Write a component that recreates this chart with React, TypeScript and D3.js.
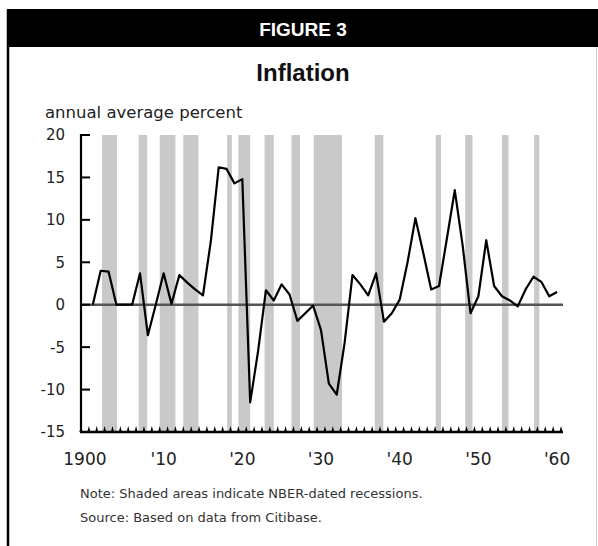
import React from "react";
import * as d3 from "d3";

const years = [1901,1902,1903,1904,1905,1906,1907,1908,1909,1910,1911,1912,1913,1914,1915,1916,1917,1918,1919,1920,1921,1922,1923,1924,1925,1926,1927,1928,1929,1930,1931,1932,1933,1934,1935,1936,1937,1938,1939,1940,1941,1942,1943,1944,1945,1946,1947,1948,1949,1950,1951,1952,1953,1954,1955,1956,1957,1958,1959,1960];
const inflation = [0,4.0,3.9,0,0,0,3.7,-3.6,0,3.7,0.1,3.5,2.6,1.8,1.1,7.5,16.2,16.0,14.3,14.8,-11.5,-5.5,1.7,0.5,2.4,1.2,-1.9,-1.0,-0.1,-3.0,-9.3,-10.6,-4.5,3.5,2.4,1.1,3.7,-2.0,-1.0,0.6,5.0,10.2,6.1,1.8,2.2,7.8,13.5,7.0,-1.0,1.0,7.6,2.2,1.0,0.5,-0.2,1.8,3.3,2.7,1.0,1.5];

// NBER recessions (peak, trough) as fractional years
const recessionStart = [1902.67,1907.33,1910.0,1913.0,1918.58,1920.0,1923.33,1926.75,1929.58,1937.33,1945.08,1948.83,1953.5,1957.58];
const recessionEnd = [1904.58,1908.42,1912.0,1914.92,1919.17,1921.5,1924.5,1927.83,1933.17,1938.42,1945.75,1949.75,1954.33,1958.25];

const yTicks = [20,15,10,5,0,-5,-10,-15];
const xTickYears = [1900,1910,1920,1930,1940,1950,1960];
const xTickLabels = ["1900","'10","'20","'30","'40","'50","'60"];

const FONT = "'DejaVu Sans', sans-serif";

export default function App() {
  const W = 598, H = 546;
  const x = d3.scaleLinear().domain([1900, 1961]).range([81, 561]);
  const y = d3.scaleLinear().domain([-15, 20]).range([432, 135]);
  const pts: [number, number][] = years.map((yr, i) => [yr + 0.5, inflation[i]]);
  const line = d3.line<[number, number]>().x(d => x(d[0])).y(d => y(d[1]));
  const yearTicks = d3.range(1900, 1962);

  return (
    <svg width={W} height={H} style={{ position: "absolute", left: 0, top: 0 }}>
      <rect x={0} y={0} width={W} height={H} fill="#fff" />
      {/* frame */}
      <rect x={7} y={9} width={591} height={38} fill="#000" />
      <line x1={8} y1={9} x2={8} y2={546} stroke="#000" strokeWidth={2.5} />
      <line x1={596.5} y1={47} x2={596.5} y2={546} stroke="#ccc" strokeWidth={1} />
      <text x={303} y={36} textAnchor="middle" fill="#fff" fontFamily="'Liberation Sans', sans-serif" fontWeight="bold" fontSize={19}>FIGURE 3</text>
      <text x={303} y={81} textAnchor="middle" fill="#111" fontFamily="'Liberation Sans', sans-serif" fontWeight="bold" fontSize={24}>Inflation</text>
      <text x={45} y={118} fill="#222" fontFamily={FONT} fontSize={16.5}>annual average percent</text>

      {/* recession shading */}
      {recessionStart.map((s, i) => (
        <rect key={i} x={x(s)} y={y(20)} width={x(recessionEnd[i]) - x(s)} height={y(-15) - y(20)} fill="#c9c9c9" />
      ))}

      {/* zero line */}
      <line x1={x(1900)} x2={563} y1={y(0)} y2={y(0)} stroke="#555" strokeWidth={2.5} />

      {/* data line */}
      <path d={line(pts) || ""} fill="none" stroke="#000" strokeWidth={2.2} strokeLinejoin="round" />

      {/* y axis */}
      <line x1={81} x2={81} y1={y(20) - 1} y2={y(-15) + 1} stroke="#000" strokeWidth={2.2} />
      {yTicks.map(t => (
        <g key={t}>
          <line x1={81} x2={90} y1={y(t)} y2={y(t)} stroke="#000" strokeWidth={2} />
          <text x={65} y={y(t)} dy="0.36em" textAnchor="end" fill="#222" fontFamily={FONT} fontSize={15}>{t}</text>
        </g>
      ))}

      {/* x axis */}
      <line x1={80} x2={563} y1={y(-15)} y2={y(-15)} stroke="#000" strokeWidth={2.5} />
      {yearTicks.map(t => (
        <path key={t} d={`M${x(t) - 1.6},${y(-15)} L${x(t)},${y(-15) - 6} L${x(t) + 1.6},${y(-15)} Z`} fill="#000" />
      ))}
      {xTickYears.map((t, i) => (
        <text key={t} x={x(t + 0.5)} y={465} textAnchor="middle" fill="#222" fontFamily={FONT} fontSize={17}>{xTickLabels[i]}</text>
      ))}

      <text x={80} y={498} fill="#333" fontFamily={FONT} fontSize={13}>Note: Shaded areas indicate NBER-dated recessions.</text>
      <text x={80} y={522} fill="#333" fontFamily={FONT} fontSize={13}>Source: Based on data from Citibase.</text>
    </svg>
  );
}
